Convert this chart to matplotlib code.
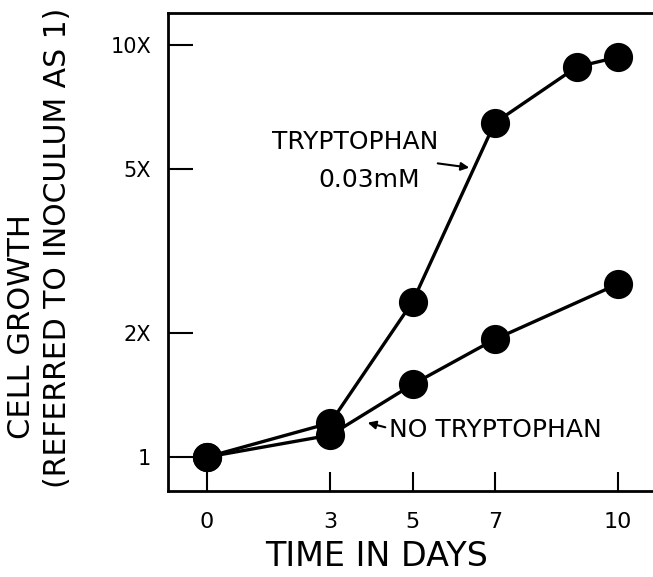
import numpy as np
import matplotlib
matplotlib.use("Agg")
import matplotlib.pyplot as plt

# growth relative to inoculum (=1)
days_tryp = [0, 3, 5, 7, 9, 10]
growth_tryp = [1.0, 1.21, 2.38, 6.47, 8.85, 9.35]
days_none = [0, 3, 5, 7, 10]
growth_none = [1.0, 1.13, 1.50, 1.93, 2.63]

xticks = [0, 3, 5, 7, 10]
yticks = [1, 2, 5, 10]
ytick_labels = ["1", "2X", "5X", "10X"]

W, H = 653, 577
fig = plt.figure(figsize=(W / 100, H / 100), dpi=100)
plt.rcParams['font.family'] = ['DejaVu Sans']

def fx(px):
    return px / W

def fy(py):
    return 1 - py / H

# axes box in pixels: left 168, top 13, bottom 491, right beyond the crop
ax = fig.add_axes([fx(168), fy(491), fx(700 - 168), (491 - 13) / H])
ax.set_yscale("log")
ax.set_xlim(-0.95, (700 - 207) / 41.1)
ax.set_ylim(0.827, 11.96)

ax.plot(days_tryp, growth_tryp, "-o", color="black", lw=2.4, ms=20, zorder=3)
ax.plot(days_none, growth_none, "-o", color="black", lw=2.4, ms=20, zorder=3)

ax.set_xticks(xticks)
ax.set_xticklabels([str(t) for t in xticks])
ax.set_yticks(yticks)
ax.set_yticklabels(ytick_labels)
ax.yaxis.set_minor_locator(matplotlib.ticker.NullLocator())
ax.tick_params(axis="y", direction="in", length=18, width=1.5, labelsize=15, pad=12)
ax.tick_params(axis="x", direction="in", length=14, width=1.5, labelsize=16, pad=15)
for s in ["left", "bottom", "top"]:
    ax.spines[s].set_linewidth(2)
ax.spines["right"].set_visible(False)

# axis titles
fig.text(fx(377), fy(557), "TIME IN DAYS", fontsize=24, ha="center", va="center")
fig.text(fx(22), fy(327), "CELL GROWTH", fontsize=22, rotation=90, ha="center", va="center")
fig.text(fx(57), fy(248), "(REFERRED TO INOCULUM AS 1)", fontsize=21.5, rotation=90,
         ha="center", va="center")

# curve labels
fig.text(fx(272), fy(142), "TRYPTOPHAN", fontsize=18, ha="left", va="center")
fig.text(fx(318), fy(180), "0.03mM", fontsize=18, ha="left", va="center")
ax.annotate("", xy=(472, H - 168), xytext=(435, H - 163),
            xycoords="figure pixels", textcoords="figure pixels",
            arrowprops=dict(arrowstyle="-|>", color="black", lw=1.5, mutation_scale=12))
fig.text(fx(389), fy(430), "NO TRYPTOPHAN", fontsize=18, ha="left", va="center")
ax.annotate("", xy=(365, H - 422), xytext=(388, H - 428),
            xycoords="figure pixels", textcoords="figure pixels",
            arrowprops=dict(arrowstyle="-|>", color="black", lw=1.5, mutation_scale=12))

fig.savefig("out.png", dpi=100)
